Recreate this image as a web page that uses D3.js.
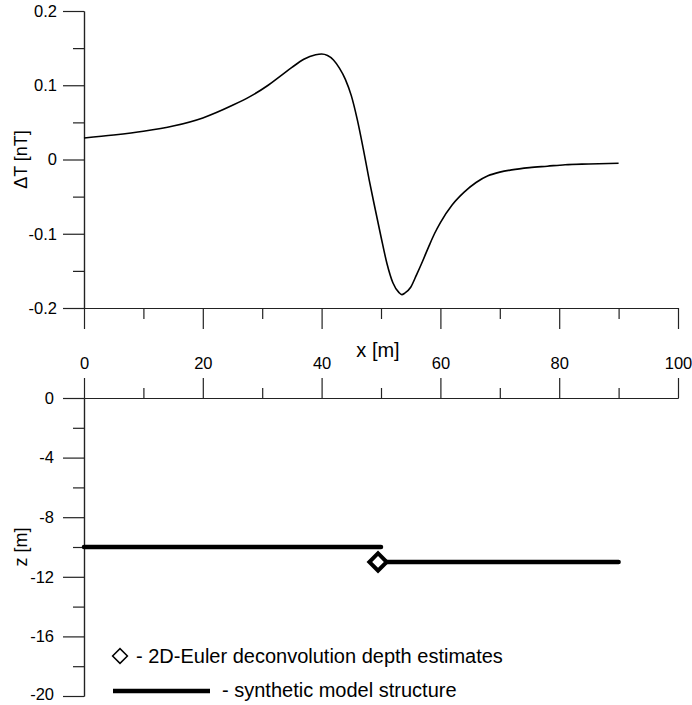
<!DOCTYPE html>
<html>
<head>
<meta charset="utf-8">
<script src="https://cdn.jsdelivr.net/npm/d3@7"></script>
<style>
  body { margin: 0; background: #fff; }
  svg { display: block; font-family: "Liberation Sans", Arial, sans-serif; }
  .axis path, .axis line { stroke: #222; stroke-width: 1.2; }
  .axis text { font-size: 16.5px; fill: #000; font-family: "Liberation Sans", Arial, sans-serif; }
</style>
</head>
<body>
<div id="chart"></div>
<script>
// magnetic anomaly profile (x in m, dT in nT)
const profileX = [0, 5, 10, 15, 20, 25, 28, 31, 33, 35, 37, 39, 40, 41, 42, 43, 44, 45, 46, 47, 48, 49, 50,
  51, 52, 53, 53.5, 54, 55, 56, 57, 58, 59, 60, 62, 64, 66, 68, 70, 72, 75, 78, 81, 85, 90];
const profileT = [0.029, 0.033, 0.038, 0.045, 0.056, 0.073, 0.085, 0.100, 0.112, 0.124, 0.135, 0.141, 0.142, 0.140, 0.134, 0.123, 0.108, 0.086, 0.054, 0.015, -0.027, -0.066, -0.104,
  -0.140, -0.166, -0.179, -0.182, -0.180, -0.172, -0.155, -0.137, -0.118, -0.100, -0.085, -0.061, -0.044, -0.031, -0.022, -0.017, -0.014, -0.011, -0.009, -0.007, -0.006, -0.005];

// synthetic model structure: two horizontal steps
const modelSegments = [
  [[0, -10], [50, -10]],
  [[50, -11], [90, -11]]
];
// 2D-Euler depth estimates
const eulerX = [49.5];
const eulerZ = [-11];

const xTicks = [0, 20, 40, 60, 80, 100];
const xMinor = [10, 30, 50, 70, 90];
const tTicks = [0.2, 0.1, 0, -0.1, -0.2];
const tMinor = [0.15, 0.05, -0.05, -0.15];
const zTicks = [0, -4, -8, -12, -16, -20];
const zMinor = [-2, -6, -10, -14, -18];

const legendLabels = ["- 2D-Euler deconvolution depth estimates", "- synthetic model structure"];

const width = 692, height = 705;
const svg = d3.select("#chart").append("svg")
  .attr("width", width)
  .attr("height", height);

const x = d3.scaleLinear().domain([0, 100]).range([84, 678]);
const yT = d3.scaleLinear().domain([-0.2, 0.2]).range([308, 11]);
const yZ = d3.scaleLinear().domain([-20, 0]).range([696, 398]);

// plain hyphen minus like the original
const fmt = d => String(d);

// ---- top panel axes
svg.append("g").attr("class", "axis")
  .attr("transform", `translate(0,${yT(-0.2)})`)
  .call(d3.axisBottom(x).tickValues(xTicks).tickSize(21).tickSizeOuter(0).tickPadding(28).tickFormat(fmt));
svg.append("g").attr("class", "axis")
  .attr("transform", `translate(0,${yT(-0.2)})`)
  .call(d3.axisBottom(x).tickValues(xMinor).tickSize(11).tickSizeOuter(0).tickFormat(""));

svg.append("g").attr("class", "axis")
  .attr("transform", `translate(${x(0)},0)`)
  .call(d3.axisLeft(yT).tickValues(tTicks).tickSize(21).tickSizeOuter(0).tickPadding(6).tickFormat(fmt));
svg.append("g").attr("class", "axis")
  .attr("transform", `translate(${x(0)},0)`)
  .call(d3.axisLeft(yT).tickValues(tMinor).tickSize(11).tickSizeOuter(0).tickFormat(""));

// ---- bottom panel axes
svg.append("g").attr("class", "axis")
  .attr("transform", `translate(0,${yZ(0)})`)
  .call(d3.axisTop(x).tickValues(xTicks).tickSize(20).tickSizeOuter(0).tickFormat(""));
svg.append("g").attr("class", "axis")
  .attr("transform", `translate(0,${yZ(0)})`)
  .call(d3.axisTop(x).tickValues(xMinor).tickSize(10).tickSizeOuter(0).tickFormat(""));

const zAxis = svg.append("g").attr("class", "axis")
  .attr("transform", `translate(${x(0)},0)`)
  .call(d3.axisLeft(yZ).tickValues(zTicks).tickSize(21).tickSizeOuter(0).tickPadding(9).tickFormat(fmt));
// keep the bottom label inside the frame
zAxis.selectAll(".tick text").filter(d => d === -20).attr("dy", "0.2em");
svg.append("g").attr("class", "axis")
  .attr("transform", `translate(${x(0)},0)`)
  .call(d3.axisLeft(yZ).tickValues(zMinor).tickSize(11).tickSizeOuter(0).tickFormat(""));

// axis titles
svg.append("text")
  .attr("transform", `translate(21,${(yT(0.2) + yT(-0.2)) / 2}) rotate(-90)`)
  .attr("text-anchor", "middle").attr("dy", "0.35em")
  .style("font-size", "18px")
  .text("\u0394T [nT]");
svg.append("text")
  .attr("transform", `translate(21,${(yZ(0) + yZ(-20)) / 2}) rotate(-90)`)
  .attr("text-anchor", "middle").attr("dy", "0.35em")
  .style("font-size", "18px")
  .text("z [m]");
svg.append("text")
  .attr("x", 378).attr("y", 357)
  .attr("text-anchor", "middle")
  .style("font-size", "20px")
  .text("x [m]");

// ---- anomaly curve
const profile = profileX.map((d, i) => ({ x: d, t: profileT[i] }));
svg.append("path")
  .datum(profile)
  .attr("fill", "none")
  .attr("stroke", "#000")
  .attr("stroke-width", 1.6)
  .attr("d", d3.line().x(d => x(d.x)).y(d => yT(d.t)).curve(d3.curveMonotoneX));

// ---- model structure
svg.append("g").selectAll("path")
  .data(modelSegments)
  .enter().append("path")
  .attr("fill", "none")
  .attr("stroke", "#000")
  .attr("stroke-width", 4.5)
  .attr("stroke-linecap", "round")
  .attr("d", d3.line().x(d => x(d[0])).y(d => yZ(d[1])));

// ---- Euler estimates
const diamond = d3.symbol().type(d3.symbolSquare);
svg.append("g").selectAll("path")
  .data(eulerX.map((d, i) => ({ x: d, z: eulerZ[i] })))
  .enter().append("path")
  .attr("d", diamond.size(150)())
  .attr("transform", d => `translate(${x(d.x)},${yZ(d.z)}) rotate(45)`)
  .attr("fill", "#fff")
  .attr("stroke", "#000")
  .attr("stroke-width", 4);

// ---- legend
const legend = svg.append("g");
legend.append("path")
  .attr("d", d3.symbol().type(d3.symbolSquare).size(110)())
  .attr("transform", "translate(120,656) rotate(45)")
  .attr("fill", "#fff")
  .attr("stroke", "#000")
  .attr("stroke-width", 1.5);
legend.append("text")
  .attr("x", 136).attr("y", 663)
  .style("font-size", "20px")
  .text(legendLabels[0]);
legend.append("line")
  .attr("x1", 113).attr("x2", 210)
  .attr("y1", 691).attr("y2", 691)
  .attr("stroke", "#000")
  .attr("stroke-width", 4.5);
legend.append("text")
  .attr("x", 222).attr("y", 697)
  .style("font-size", "20px")
  .text(legendLabels[1]);
</script>
</body>
</html>
